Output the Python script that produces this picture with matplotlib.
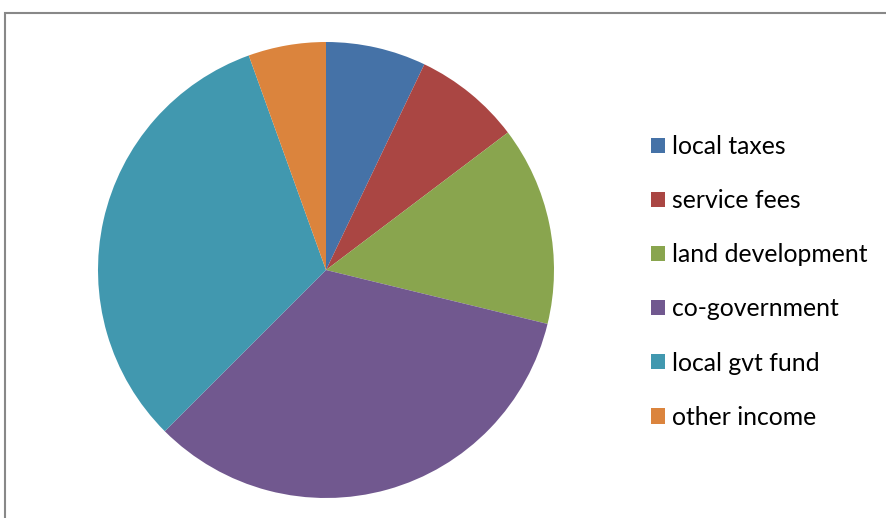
import matplotlib.pyplot as plt
from matplotlib.patches import Rectangle

# income sources, shares (percent)
labels = ["local taxes", "service fees", "land development",
          "co-government", "local gvt fund", "other income"]
shares = [7.1, 7.6, 14.1, 33.7, 32.0, 5.5]
colors = ["#4572A7", "#AA4643", "#89A54E", "#71588F", "#4198AF", "#DB843D"]

W, H = 887, 518
fig = plt.figure(figsize=(W / 100, H / 100), dpi=100)

# pie centre ~(326,270) px, radius ~228 px
cx, cy, r = 326, 270, 228
ax = fig.add_axes([(cx - r) / W, 1 - (cy + r) / H, 2 * r / W, 2 * r / H])
wedges, _ = ax.pie(shares, colors=colors, startangle=90, counterclock=False,
                   radius=1.0, wedgeprops=dict(linewidth=0))
ax.set_xlim(-1, 1)
ax.set_ylim(-1, 1)
ax.set_aspect("auto")

# outer chart frame (open at right and bottom edges)
fig.patches.append(Rectangle((5 / W, -0.01), 1.0, 1 - 13 / H + 0.01,
                             transform=fig.transFigure, fill=False,
                             edgecolor="#888888", linewidth=1.5))

fs = 17.8
leg = fig.legend(wedges, labels, loc="upper left",
                 bbox_to_anchor=(651 / W, 1 - 135 / H),
                 frameon=False, prop={"family": "Lato", "size": fs},
                 handlelength=0.57, handleheight=0.57, handletextpad=0.28,
                 labelspacing=1.26, borderpad=0, borderaxespad=0)

fig.savefig("out.png", dpi=100)
